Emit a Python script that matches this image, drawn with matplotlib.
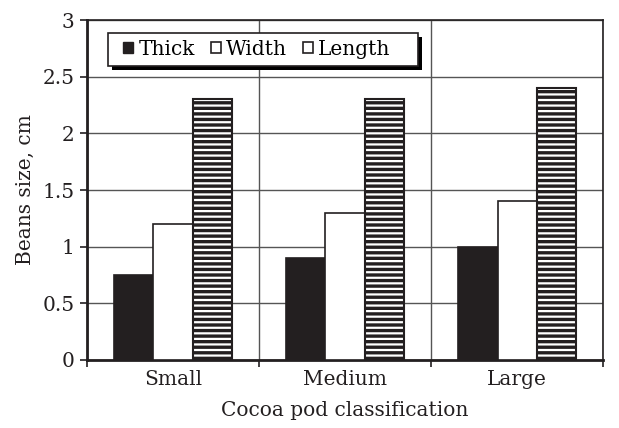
import numpy as np
import matplotlib
matplotlib.use("Agg")
from matplotlib import pyplot as plt
from matplotlib.patches import Patch, Rectangle

# bean dimensions per pod class, cm
classes = ["Small", "Medium", "Large"]
thick = [0.75, 0.9, 1.0]
width = [1.2, 1.3, 1.4]
length = [2.3, 2.3, 2.4]
series_names = ["Thick", "Width", "Length"]
yticks = [0, 0.5, 1, 1.5, 2, 2.5, 3]

plt.rcParams["font.family"] = ["DejaVu Serif"]
plt.rcParams["hatch.color"] = "black"

ink = "#231f20"
fs = 14.5

fig = plt.figure(figsize=(6.19, 4.28), dpi=100)
ax = fig.add_axes([0.1405, 0.159, 0.834, 0.794])

x = np.arange(len(classes))
bw = 0.228
ax.bar(x - bw, thick, bw, color=ink, edgecolor=ink, lw=1.2, zorder=3)
ax.bar(x, width, bw, color="white", edgecolor=ink, lw=1.2, zorder=3)
striped = ax.bar(x + bw, length, bw, color="white", edgecolor=ink, lw=1.5,
                 hatch="---", zorder=3)
for p in striped:
    p.set_hatch_linewidth(2.4)

ax.set_xlim(-0.5, len(classes) - 0.5)
ax.set_ylim(0, 3)
ax.set_yticks(yticks)
ax.set_yticklabels([f"{t:g}" for t in yticks])

# category boundaries as major ticks, names on minor ticks
ax.set_xticks(np.arange(len(classes) + 1) - 0.5)
ax.set_xticklabels([])
ax.set_xticks(x, minor=True)
ax.set_xticklabels(classes, minor=True)
ax.tick_params(axis="x", which="minor", length=0, pad=7)
ax.tick_params(axis="x", which="major", length=5, width=1.2, direction="out")
ax.tick_params(axis="y", length=5, width=1.2, direction="out", pad=4)
ax.tick_params(which="both", labelsize=fs, colors=ink)

ax.grid(True, which="major", color="#555555", lw=1.0, zorder=0)
for side in ["left", "bottom"]:
    ax.spines[side].set_linewidth(2.0)
for side in ["top", "right"]:
    ax.spines[side].set_linewidth(1.2)
for s in ax.spines.values():
    s.set_color(ink)

ax.set_ylabel("Beans size, cm", fontsize=fs, color=ink, labelpad=5)
ax.set_xlabel("Cocoa pod classification", fontsize=fs, color=ink, labelpad=9)

# legend box with a solid drop shadow, drawn separately from the entries
bx, by, bwid, bht = 0.0407, 0.8647, 0.6008, 0.0971
ax.add_patch(Rectangle((bx + 0.008, by - 0.012), bwid, bht, transform=ax.transAxes,
                       facecolor="black", edgecolor="none", zorder=5))
ax.add_patch(Rectangle((bx, by), bwid, bht, transform=ax.transAxes,
                       facecolor="white", edgecolor=ink, lw=1.2, zorder=5))

handles = [
    Patch(facecolor=ink, edgecolor=ink, lw=1),
    Patch(facecolor="white", edgecolor=ink, lw=1.2),
    Patch(facecolor="white", edgecolor=ink, lw=1.2),
]
leg = ax.legend(handles, series_names, loc="center", ncol=3,
                bbox_to_anchor=(0.329, 0.915), fontsize=fs, frameon=False,
                handlelength=0.5, handleheight=0.5, handletextpad=0.25,
                columnspacing=0.8, borderpad=0, borderaxespad=0)
leg.set_zorder(6)

fig.savefig("out.png", dpi=100)
